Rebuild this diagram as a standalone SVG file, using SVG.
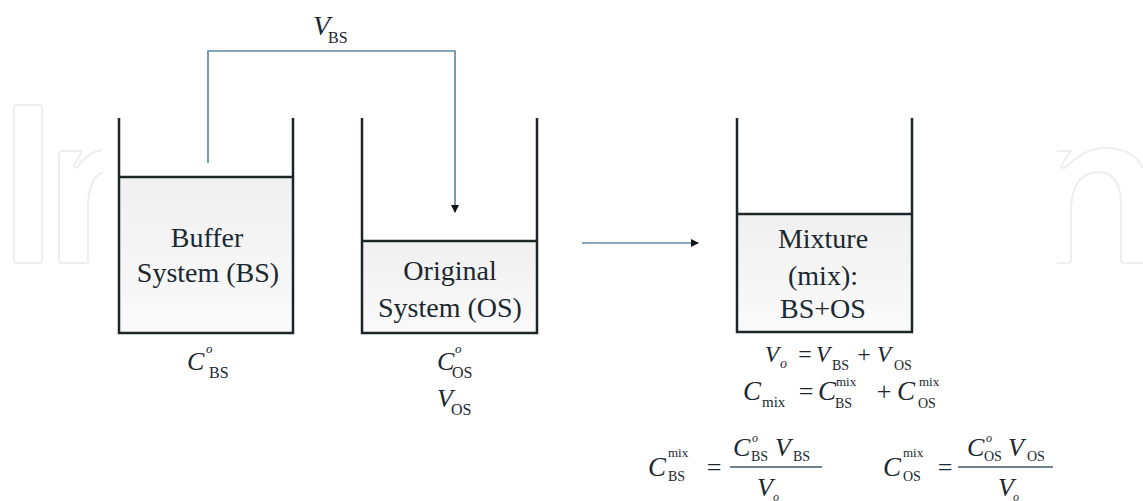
<svg xmlns="http://www.w3.org/2000/svg" width="1143" height="501" viewBox="0 0 1143 501">
<defs>
<linearGradient id="liq" x1="0" y1="0" x2="0" y2="1">
<stop offset="0" stop-color="#f0f0f0"/>
<stop offset="1" stop-color="#fafafa"/>
</linearGradient>
<marker id="ah" markerWidth="8" markerHeight="8" refX="7" refY="4" orient="auto" markerUnits="userSpaceOnUse">
<path d="M0,0 L8,4 L0,8 Z" fill="#111"/>
</marker>
<style>
.wm{fill:none;stroke:#eeeeee;stroke-width:2;stroke-linejoin:round}
.wall{fill:none;stroke:#1c2629;stroke-width:2.5}
.liq{fill:url(#liq);stroke:none}
.lvl{stroke:#1c2629;stroke-width:2.5}
.conn{fill:none;stroke:#5f8ba3;stroke-width:1.7}
.frac{stroke:#3c5a6a;stroke-width:1.5}
.lbl{text-anchor:middle}
.it{font-style:italic}
</style>
</defs>
<rect width="1143" height="501" fill="#fff"/>
<g id="watermark">
<rect class="wm" x="14" y="105" width="28" height="158" rx="3"/>
<path class="wm" d="M102,150 Q88,152 78,166 Q75,170 74,166 L82,151 L62,151 Q59,151 59,155 L59,261 Q59,263 62,263 L86,263 Q88,263 88,260 L88,208 Q88,178 103,172"/>
<path class="wm" d="M1057,151 L1071,151 L1062,164 Q1060,170 1066,167 Q1085,148 1105,148 Q1133,148 1143,168"/>
<path class="wm" d="M1057,263 L1068,263 Q1071,263 1071,260 L1071,212 Q1071,174 1097,172 Q1120,172 1121,202 L1121,260 Q1121,263 1124,263 L1143,263"/>
</g>
<g id="connectors">
<path class="conn" d="M208,163 L208,51 L455,51 L455,212" marker-end="url(#ah)"/>
<path class="conn" d="M582,243 L698,243" marker-end="url(#ah)"/>
</g>
<g font-family="Liberation Serif" fill="#1b2830">
<g id="buffer-system">
<rect class="liq" x="119" y="177" width="174" height="156"/>
<line class="lvl" x1="119" y1="177" x2="293" y2="177"/>
<path class="wall" d="M119,118 L119,333 L293,333 L293,118"/>
<text class="lbl" x="207" y="247" font-size="28">Buffer</text>
<text class="lbl" x="208" y="282" font-size="28">System (BS)</text>
<text class="it" x="187" y="370" font-size="26">C</text>
<text class="it" x="206" y="353" font-size="13">o</text>
<text x="209" y="378" font-size="16">BS</text>
</g>
<g id="original-system">
<rect class="liq" x="362" y="241" width="175" height="92"/>
<line class="lvl" x1="362" y1="241" x2="537" y2="241"/>
<path class="wall" d="M362,118 L362,333 L537,333 L537,118"/>
<text class="lbl" x="450" y="280" font-size="28">Original</text>
<text class="lbl" x="450" y="317" font-size="28">System (OS)</text>
<text class="it" x="437" y="370" font-size="26">C</text>
<text class="it" x="455" y="353" font-size="13">o</text>
<text x="452" y="378" font-size="16">OS</text>
<text class="it" x="437" y="407" font-size="26">V</text>
<text x="451" y="415" font-size="16">OS</text>
</g>
<g id="vbs-label">
<text class="it" x="313" y="35" font-size="28">V</text>
<text x="328" y="43" font-size="16">BS</text>
</g>
<g id="mixture">
<rect class="liq" x="737" y="214" width="175" height="118"/>
<line class="lvl" x1="737" y1="214" x2="912" y2="214"/>
<path class="wall" d="M737,118 L737,332 L912,332 L912,118"/>
<text class="lbl" x="823" y="248" font-size="28">Mixture</text>
<text class="lbl" x="823" y="285" font-size="28">(mix):</text>
<text class="lbl" x="823" y="318" font-size="28">BS+OS</text>
</g>
<g id="eq-volume">
<text class="it" x="765" y="362" font-size="23">V</text>
<text class="it" x="780" y="368" font-size="14">o</text>
<text x="805" y="362" font-size="24" text-anchor="middle">=</text>
<text class="it" x="816" y="362" font-size="23">V</text>
<text x="832" y="370" font-size="14">BS</text>
<text x="864" y="362" font-size="24" text-anchor="middle">+</text>
<text class="it" x="877" y="362" font-size="23">V</text>
<text x="894" y="370" font-size="14">OS</text>
</g>
<g id="eq-conc">
<text class="it" x="743" y="400" font-size="27">C</text>
<text x="762" y="407" font-size="15">mix</text>
<text x="806" y="400" font-size="26" text-anchor="middle">=</text>
<text class="it" x="818" y="400" font-size="27">C</text>
<text x="836" y="386" font-size="13">mix</text>
<text x="835" y="408" font-size="14">BS</text>
<text x="884" y="400" font-size="26" text-anchor="middle">+</text>
<text class="it" x="897" y="400" font-size="27">C</text>
<text x="919" y="386" font-size="13">mix</text>
<text x="918" y="408" font-size="14">OS</text>
</g>
<g id="eq-bs-mix">
<text class="it" x="648" y="476" font-size="27">C</text>
<text x="668" y="457" font-size="13">mix</text>
<text x="668" y="481" font-size="14">BS</text>
<text x="714" y="476" font-size="26" text-anchor="middle">=</text>
<text class="it" x="733" y="456" font-size="26">C</text>
<text class="it" x="752" y="442" font-size="12">o</text>
<text x="751" y="461" font-size="14">BS</text>
<text class="it" x="775" y="456" font-size="26">V</text>
<text x="793" y="461" font-size="14">BS</text>
<line class="frac" x1="730" y1="467" x2="822" y2="467"/>
<text class="it" x="757" y="496" font-size="26">V</text>
<text class="it" x="773" y="501" font-size="12">o</text>
</g>
<g id="eq-os-mix">
<text class="it" x="883" y="476" font-size="27">C</text>
<text x="903" y="457" font-size="13">mix</text>
<text x="903" y="481" font-size="14">OS</text>
<text x="945" y="476" font-size="26" text-anchor="middle">=</text>
<text class="it" x="967" y="456" font-size="26">C</text>
<text class="it" x="986" y="442" font-size="12">o</text>
<text x="984" y="461" font-size="14">OS</text>
<text class="it" x="1008" y="456" font-size="26">V</text>
<text x="1027" y="461" font-size="14">OS</text>
<line class="frac" x1="958" y1="467" x2="1053" y2="467"/>
<text class="it" x="998" y="496" font-size="26">V</text>
<text class="it" x="1013" y="501" font-size="12">o</text>
</g>
</g>
</svg>
